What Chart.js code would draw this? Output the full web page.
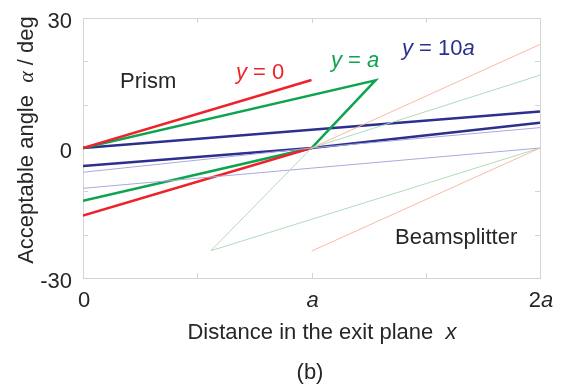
<!DOCTYPE html>
<html>
<head>
<meta charset="utf-8">
<script src="https://cdn.jsdelivr.net/npm/chart.js@4.4.1/dist/chart.umd.min.js"></script>
<style>
	html, body { margin:0; padding:0; background:#fff; }
	#wrap { width:563px; height:385px; }
</style>
</head>
<body>
<div id="wrap"><canvas id="c" width="563" height="385"></canvas></div>
<script>
// x in units of a, y = acceptable angle in deg
const xTicks = [0, 1, 2];
const xTickLabels = [['0'], ['a'], ['2', 'a']];
const xMinorTicks = [0.5, 1, 1.5];
const yTicks = [-30, 0, 30];
const yTickLabels = ['-30', '0', '30'];
const yMinorTicks = [-20, -10, 0, 10, 20];

// prism, y = 0
const redUpperX = [0, 1];
const redUpperY = [0, 15.7];
const redLowerX = [0, 1];
const redLowerY = [-15.6, 0];
// prism, y = a
const greenX = [0, 1.28, 1, 0];
const greenY = [0, 15.6, 0, -12.2];
// prism, y = 10a
const blueUpperX = [0, 2];
const blueUpperY = [0, 8.4];
const blueLowerX = [0, 1, 2];
const blueLowerY = [-4.15, 0, 5.8];
// beamsplitter (thin)
const bsRedUpperX = [1, 2];
const bsRedUpperY = [0, 23.9];
const bsRedLowerX = [1, 2];
const bsRedLowerY = [-23.8, 0];
const bsGreenX = [2, 1, 0.56, 2];
const bsGreenY = [16.8, 0, -23.7, 0];
const bsBlueUpperX = [0, 1, 2];
const bsBlueUpperY = [-5.6, 0, 4.7];
const bsBlueLowerX = [0, 2];
const bsBlueLowerY = [-9.3, 0];

const RED = '#ee2329', GREEN = '#0ea44f', BLUE = '#2c2f8e';
const FONT = '"Liberation Sans", Arial, sans-serif';

function pts(xs, ys){ return xs.map((x,i)=>({x, y:ys[i]})); }
function line(xs, ys, color, width){
	return { data: pts(xs, ys), borderColor: color, borderWidth: width, showLine: true, pointRadius: 0, fill: false, tension: 0 };
}

// draw text made of [text, italic, family?] parts
function rich(ctx, parts, x, y, align, color){
	const fonts = parts.map(p => (p[1] ? 'italic ' : '') + '22px ' + (p[2] || FONT));
	let w = 0;
	parts.forEach((p,i)=>{ ctx.font = fonts[i]; w += ctx.measureText(p[0]).width; });
	let cx = align === 'center' ? x - w/2 : align === 'right' ? x - w : x;
	ctx.fillStyle = color || '#262626';
	ctx.textAlign = 'left';
	parts.forEach((p,i)=>{ ctx.font = fonts[i]; ctx.fillText(p[0], cx, y); cx += ctx.measureText(p[0]).width; });
}

const framePlugin = {
	id: 'frame',
	beforeDatasetsDraw(chart){
		const {ctx, chartArea: a, scales: {x, y}} = chart;
		ctx.save();
		ctx.strokeStyle = '#d4d4d4';
		ctx.lineWidth = 1;
		ctx.strokeRect(a.left + 0.5, a.top + 0.5, a.right - a.left, a.bottom - a.top);
		ctx.beginPath();
		xMinorTicks.forEach(v=>{
			const px = Math.round(x.getPixelForValue(v)) + 0.5;
			ctx.moveTo(px, a.top); ctx.lineTo(px, a.top + 5);
			ctx.moveTo(px, a.bottom); ctx.lineTo(px, a.bottom - 5);
		});
		yMinorTicks.forEach(v=>{
			const py = Math.round(y.getPixelForValue(v)) + 0.5;
			ctx.moveTo(a.left, py); ctx.lineTo(a.left + 5, py);
			ctx.moveTo(a.right, py); ctx.lineTo(a.right - 5, py);
		});
		ctx.stroke();
		ctx.restore();
	},
	afterDraw(chart){
		const {ctx, scales: {x, y}} = chart;
		ctx.save();
		ctx.textBaseline = 'alphabetic';
		// tick labels
		xTicks.forEach((v,i)=>{
			const parts = xTickLabels[i].map(t => [t, t === 'a']);
			rich(ctx, parts, x.getPixelForValue(v) + 1, 307, 'center');
		});
		yTicks.forEach((v,i)=>{
			rich(ctx, [[yTickLabels[i], false]], 72, y.getPixelForValue(v) + 10, 'right');
		});
		// axis titles
		rich(ctx, [['Distance in the exit plane  ', false], ['x', true]], 322, 339, 'center');
		rich(ctx, [['(b)', false]], 310, 379, 'center');
		ctx.save();
		ctx.translate(33, 140);
		ctx.rotate(-Math.PI/2);
		rich(ctx, [['Acceptable angle  ', false], ['\u03b1', true, '"Liberation Serif", serif'], [' / deg', false]], 0, 0, 'center');
		ctx.restore();
		// annotations
		rich(ctx, [['Prism', false]], 120, 88, 'left');
		rich(ctx, [['Beamsplitter', false]], 395, 244, 'left');
		rich(ctx, [['y', true], [' = 0', false]], 236, 79, 'left', RED);
		rich(ctx, [['y', true], [' = ', false], ['a', true]], 331, 67, 'left', GREEN);
		rich(ctx, [['y', true], [' = 10', false], ['a', true]], 402, 55, 'left', BLUE);
		ctx.restore();
	}
};

new Chart(document.getElementById('c'), {
	type: 'scatter',
	data: { datasets: [
		line(bsRedUpperX, bsRedUpperY, '#f8bba4', 1),
		line(bsRedLowerX, bsRedLowerY, '#f8bba4', 1),
		line(bsGreenX, bsGreenY, '#aedcb9', 1),
		line(bsBlueUpperX, bsBlueUpperY, '#aaaadd', 1),
		line(bsBlueLowerX, bsBlueLowerY, '#aaaadd', 1),
		line(redUpperX, redUpperY, RED, 2.5),
		line(redLowerX, redLowerY, RED, 2.5),
		line(greenX, greenY, GREEN, 2.5),
		line(blueUpperX, blueUpperY, BLUE, 2.5),
		line(blueLowerX, blueLowerY, BLUE, 2.5)
	]},
	options: {
		responsive: false,
		animation: false,
		devicePixelRatio: 1,
		layout: { padding: { left: 83, right: 23, top: 18, bottom: 107 } },
		plugins: { legend: { display: false }, tooltip: { enabled: false } },
		scales: {
			x: { type: 'linear', min: 0, max: 2, display: false },
			y: { type: 'linear', min: -30, max: 30, display: false }
		}
	},
	plugins: [framePlugin]
});
</script>
</body>
</html>
